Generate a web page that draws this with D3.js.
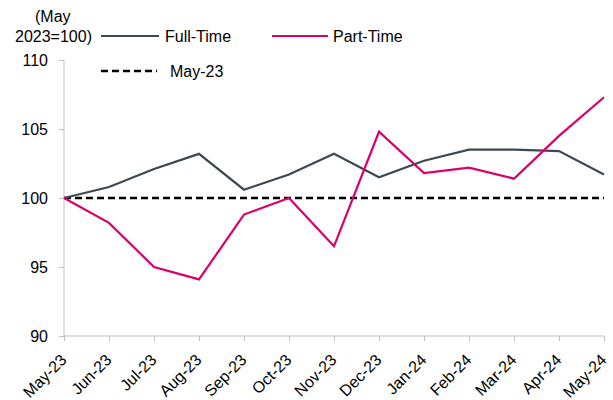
<!DOCTYPE html>
<html><head><meta charset="utf-8">
<script src="https://cdn.jsdelivr.net/npm/d3@7"></script>
<style>body{margin:0;background:#fff}svg{display:block}text{font-family:"Liberation Sans",Arial,sans-serif;fill:#000}</style>
</head><body><svg id="c" width="613" height="400"></svg>
<script>
const months = ["May-23","Jun-23","Jul-23","Aug-23","Sep-23","Oct-23","Nov-23","Dec-23","Jan-24","Feb-24","Mar-24","Apr-24","May-24"];
const fullTime = [100, 100.8, 102.1, 103.2, 100.6, 101.7, 103.2, 101.5, 102.7, 103.5, 103.5, 103.4, 101.7];
const partTime = [100, 98.2, 95.0, 94.1, 98.8, 100.0, 96.5, 104.8, 101.8, 102.2, 101.4, 104.5, 107.3];
const baseline = months.map(() => 100);
const yTicks = [90, 95, 100, 105, 110];

const svg = d3.select("#c");
const x = d3.scalePoint().domain(months).range([64, 604]);
const y = d3.scaleLinear().domain([90, 110]).range([336, 60]);
const axisCol = "#bfbfbf";

const ya = svg.append("g").attr("transform","translate(64,0)")
  .call(d3.axisLeft(y).tickValues(yTicks).tickSize(5).tickPadding(11));
ya.select(".domain").attr("stroke", axisCol).attr("d","M0,60V336");
ya.selectAll(".tick line").attr("stroke", axisCol);
ya.selectAll("text").style("font-size","16px").attr("fill","#000");

const xa = svg.append("g").attr("transform","translate(0,336)")
  .call(d3.axisBottom(x).tickSize(5).tickPadding(0));
xa.select(".domain").attr("stroke", axisCol).attr("d","M64,0H604");
xa.selectAll(".tick line").attr("stroke", axisCol);
xa.selectAll("text").style("font-size","16px").attr("fill","#000")
  .attr("text-anchor","end").attr("x",0).attr("y",0).attr("dy",0)
  .attr("transform","translate(3,25) rotate(-45)");

const line = d3.line().x((d,i)=>x(months[i])).y(d=>y(d));
svg.append("path").datum(baseline).attr("d",line).attr("fill","none")
  .attr("stroke","#000").attr("stroke-width",2.5).attr("stroke-dasharray","7,4");
svg.append("path").datum(fullTime).attr("d",line).attr("fill","none")
  .attr("stroke","#3b4a52").attr("stroke-width",2.2);
svg.append("path").datum(partTime).attr("d",line).attr("fill","none")
  .attr("stroke","#d9006c").attr("stroke-width",2.2);

// unit label
svg.append("text").attr("x",35).attr("y",22).style("font-size","16px").text("(May");
svg.append("text").attr("x",15).attr("y",42).style("font-size","16px").text("2023=100)");

// legend
const leg = [
  {name:"Full-Time", col:"#3b4a52", dash:null, x1:101, x2:159, tx:165, y:36},
  {name:"Part-Time", col:"#d9006c", dash:null, x1:272, x2:328, tx:333, y:36},
  {name:"May-23", col:"#000", dash:"7,4", x1:101, x2:157, tx:170, y:71}
];
leg.forEach(l=>{
  svg.append("line").attr("x1",l.x1).attr("x2",l.x2).attr("y1",l.y).attr("y2",l.y)
    .attr("stroke",l.col).attr("stroke-width",l.dash?2.5:2.2).attr("stroke-dasharray",l.dash);
  svg.append("text").attr("x",l.tx).attr("y",l.y).attr("dy","0.35em").style("font-size","16px").text(l.name);
});
</script></body></html>
